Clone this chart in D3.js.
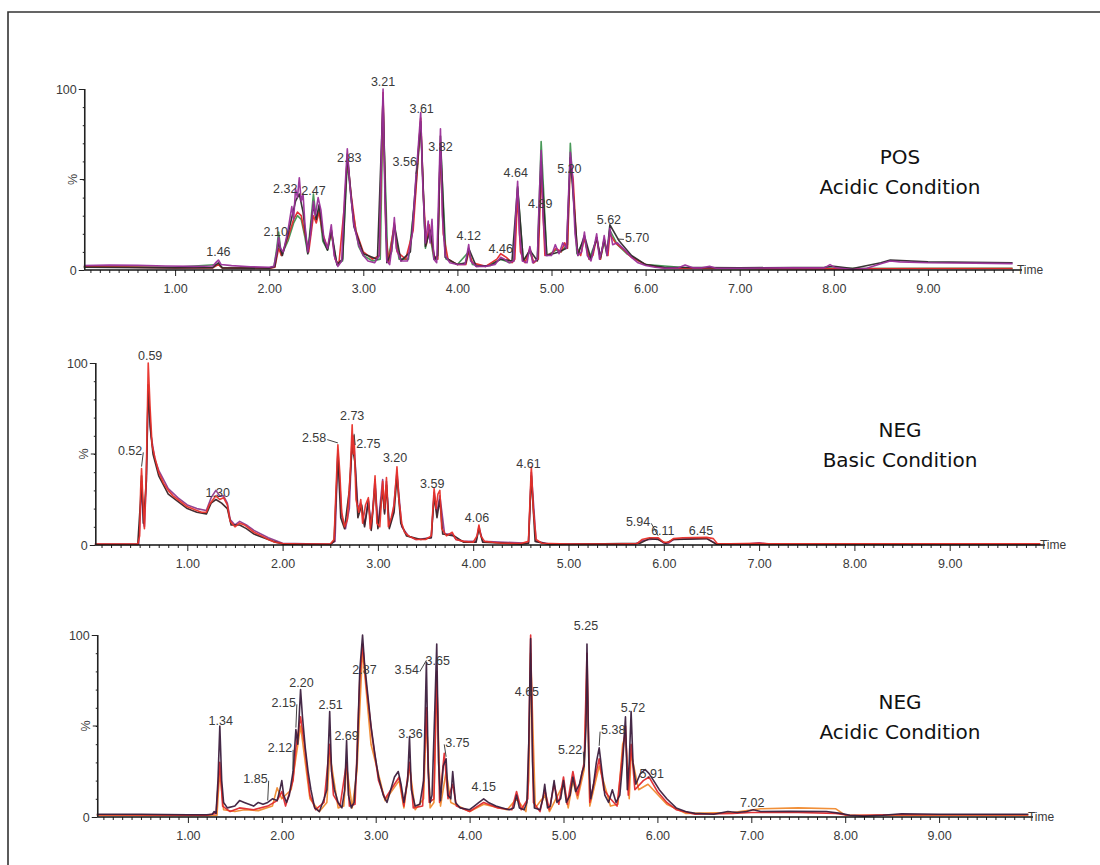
<!DOCTYPE html>
<html><head><meta charset="utf-8">
<script src="https://cdn.jsdelivr.net/npm/d3@7"></script>
<style>body{margin:0;background:#fff}svg{display:block}</style>
</head><body>
<svg id="c" width="1100" height="865"></svg>
<script>
// ---------- data (time in min, intensity in %) ----------
const xTickValues = [1,2,3,4,5,6,7,8,9];
const xTickLabels = ["1.00","2.00","3.00","4.00","5.00","6.00","7.00","8.00","9.00"];
const yTickValues = [0,100];
const yTickLabels = ["0","100"];
const titles = [["POS","Acidic Condition"],["NEG","Basic Condition"],["NEG","Acidic Condition"]];

// Panel 1 : POS acidic
const p1Purple = [[0.03,2.5],[0.3,2.8],[0.6,2.6],[0.9,2.2],[1.2,2],[1.40,2.2],[1.44,4.5],[1.46,5.5],[1.49,3],[1.6,2.4],[1.8,1.8],[2.0,1.5],[2.05,2],[2.08,10],[2.10,18],[2.12,12],[2.15,10],[2.2,22],[2.24,35],[2.26,28],[2.28,45],[2.30,40],[2.32,51],[2.34,38],[2.36,42],[2.38,25],[2.41,10],[2.44,20],[2.47,38],[2.49,30],[2.52,40],[2.55,33],[2.58,18],[2.62,12],[2.66,25],[2.69,8],[2.73,2],[2.77,5],[2.80,40],[2.83,67],[2.86,45],[2.90,25],[2.95,14],[3.0,8],[3.05,5],[3.12,4],[3.17,8],[3.19,60],[3.21,100],[3.23,40],[3.25,5],[3.28,3],[3.31,15],[3.33,29],[3.35,12],[3.40,5],[3.47,5],[3.52,20],[3.56,52],[3.58,65],[3.61,87],[3.63,50],[3.66,15],[3.69,27],[3.71,15],[3.73,28],[3.75,6],[3.78,4],[3.80,40],[3.82,78],[3.84,30],[3.87,8],[3.92,4],[4.0,3],[4.08,3],[4.10,8],[4.12,14],[4.14,5],[4.2,2],[4.3,2],[4.4,3],[4.46,7],[4.5,6],[4.55,4],[4.60,5],[4.62,30],[4.64,49],[4.66,20],[4.69,5],[4.74,4],[4.77,13],[4.80,4],[4.85,6],[4.87,40],[4.89,66],[4.91,30],[4.94,8],[5.0,8],[5.04,14],[5.08,9],[5.12,15],[5.16,12],[5.18,40],[5.20,65],[5.22,55],[5.25,20],[5.28,8],[5.32,10],[5.35,21],[5.38,8],[5.42,5],[5.45,12],[5.48,20],[5.51,6],[5.54,12],[5.56,19],[5.59,8],[5.62,23],[5.65,14],[5.70,15],[5.78,11],[5.85,7],[5.92,4],[6.0,2.5],[6.1,1.5],[6.2,1],[6.35,1.2],[6.42,2.8],[6.5,1.2],[6.6,1.2],[6.68,2],[6.75,1],[7.0,1],[7.5,1.2],[7.9,1.2],[7.96,3],[8.02,1.2],[8.2,0.3],[8.35,1],[8.5,3.5],[8.6,5],[8.7,4.5],[9.0,4],[9.5,3.8],[9.9,3.5]];
const p1Red = [[0.03,1.8],[0.5,1.6],[1.0,1.2],[1.4,1.2],[1.46,3],[1.5,1.2],[2.0,0.8],[2.06,1.5],[2.10,12],[2.13,8],[2.2,18],[2.26,28],[2.30,32],[2.34,30],[2.38,20],[2.42,10],[2.47,30],[2.50,26],[2.53,32],[2.57,20],[2.62,12],[2.66,22],[2.70,6],[2.74,3],[2.80,36],[2.83,62],[2.87,42],[2.92,22],[3.0,10],[3.1,6],[3.17,8],[3.21,98],[3.24,20],[3.27,4],[3.33,26],[3.36,10],[3.45,6],[3.53,22],[3.58,60],[3.61,84],[3.64,40],[3.67,14],[3.70,25],[3.75,8],[3.79,6],[3.82,70],[3.85,20],[3.9,6],[4.0,3],[4.09,3],[4.12,10],[4.16,4],[4.3,2],[4.42,6],[4.46,9],[4.52,7],[4.58,4],[4.61,6],[4.64,42],[4.67,10],[4.72,4],[4.77,12],[4.81,4],[4.86,6],[4.89,55],[4.93,8],[5.0,9],[5.05,12],[5.10,10],[5.14,15],[5.17,12],[5.20,60],[5.23,50],[5.27,12],[5.31,8],[5.35,18],[5.40,6],[5.44,8],[5.48,18],[5.52,6],[5.56,17],[5.60,8],[5.62,20],[5.68,15],[5.75,12],[5.85,7],[6.0,3],[6.2,1],[7.0,0.8],[8.0,0.6],[9.0,0.8],[9.9,0.8]];
const p1Dark = [[0.03,1.5],[1.0,1.2],[1.40,1.3],[1.46,4],[1.5,1.2],[2.0,1],[2.06,2],[2.10,15],[2.14,8],[2.2,20],[2.28,38],[2.32,42],[2.36,32],[2.41,9],[2.47,36],[2.50,28],[2.53,36],[2.58,16],[2.62,11],[2.66,22],[2.72,3],[2.78,6],[2.83,64],[2.90,24],[3.0,9],[3.15,6],[3.21,95],[3.25,4],[3.30,10],[3.33,25],[3.40,5],[3.50,10],[3.56,50],[3.61,82],[3.66,13],[3.71,22],[3.76,6],[3.79,8],[3.82,74],[3.87,7],[4.0,3],[4.09,4],[4.12,12],[4.2,2],[4.35,2.5],[4.46,6],[4.58,5],[4.64,46],[4.70,5],[4.77,11],[4.85,5],[4.89,60],[4.95,8],[5.08,10],[5.16,12],[5.20,62],[5.28,8],[5.35,19],[5.42,6],[5.48,18],[5.52,7],[5.56,17],[5.59,9],[5.62,25],[5.72,16],[5.85,8],[6.0,3],[6.2,1.5],[7.0,1.2],[7.9,1.5],[8.0,2],[8.2,0.8],[8.5,4],[8.6,5.5],[9.0,4.5],[9.9,4]];
const p1Green = [[0.03,1.8],[1.0,1.5],[1.46,3],[1.5,1.3],[2.0,1.2],[2.05,1.5],[2.08,12],[2.10,21],[2.13,8],[2.2,16],[2.26,26],[2.3,30],[2.34,28],[2.38,18],[2.41,9],[2.47,42],[2.50,28],[2.53,34],[2.57,16],[2.62,11],[2.66,20],[2.72,3],[2.78,5],[2.83,60],[2.88,35],[2.95,13],[3.0,8],[3.1,5],[3.18,6],[3.21,90],[3.26,5],[3.33,24],[3.38,6],[3.48,6],[3.55,40],[3.61,80],[3.66,12],[3.70,22],[3.75,6],[3.79,6],[3.82,70],[3.88,6],[4.0,3],[4.12,10],[4.16,3],[4.3,2],[4.46,6],[4.56,4],[4.6,5],[4.64,45],[4.70,5],[4.77,10],[4.81,4],[4.85,6],[4.89,71],[4.95,8],[5.05,11],[5.1,10],[5.17,14],[5.20,70],[5.27,9],[5.35,17],[5.40,6],[5.48,17],[5.52,6],[5.56,16],[5.59,8],[5.62,22],[5.7,14],[5.8,9],[6.0,3],[6.5,1],[7.0,0.8],[9.9,1]];

// Panel 2 : NEG basic
const p2Red = [[0.03,0.5],[0.3,0.5],[0.48,0.5],[0.50,5],[0.51,30],[0.52,42],[0.53,30],[0.55,9],[0.57,40],[0.59,100],[0.61,75],[0.63,55],[0.66,48],[0.70,40],[0.75,34],[0.80,30],[0.85,27],[0.90,25],[0.95,23],[1.0,21],[1.05,20],[1.10,19],[1.15,18],[1.20,18],[1.23,22],[1.27,25],[1.30,27],[1.34,25],[1.38,26],[1.42,22],[1.45,13],[1.50,10],[1.55,12],[1.60,11],[1.65,9],[1.70,7],[1.78,5],[1.85,3],[1.92,1.5],[2.0,0.8],[2.2,0.5],[2.5,0.5],[2.54,3],[2.56,30],[2.58,55],[2.60,40],[2.62,18],[2.65,10],[2.68,14],[2.71,40],[2.73,66],[2.74,50],[2.75,60],[2.77,25],[2.80,18],[2.82,25],[2.84,12],[2.87,22],[2.90,26],[2.92,9],[2.95,20],[2.97,38],[2.99,12],[3.02,10],[3.05,35],[3.07,20],[3.09,37],[3.11,10],[3.14,15],[3.17,22],[3.20,43],[3.22,25],[3.25,12],[3.28,7],[3.32,5],[3.4,3],[3.5,3],[3.56,5],[3.59,31],[3.61,20],[3.63,28],[3.65,30],[3.67,9],[3.72,5],[3.78,7],[3.82,3],[3.9,2],[4.0,1.5],[4.04,5],[4.06,11],[4.08,5],[4.12,2],[4.2,1.5],[4.3,1],[4.5,0.8],[4.58,2],[4.60,30],[4.61,43],[4.63,20],[4.66,3],[4.72,1],[5.0,0.5],[5.5,0.5],[5.72,0.8],[5.77,3],[5.85,4],[5.94,4],[6.0,1.5],[6.05,1.5],[6.10,3.5],[6.2,4],[6.45,4.2],[6.52,3.5],[6.56,0.8],[6.7,0.6],[7.0,1],[7.1,0.6],[8.0,0.6],[9.0,0.6],[9.95,0.6]];
const p2Dark = [[0.03,0.3],[0.48,0.3],[0.51,25],[0.52,38],[0.54,12],[0.57,35],[0.59,88],[0.61,65],[0.64,50],[0.70,38],[0.80,28],[0.90,24],[1.0,20],[1.1,18],[1.2,17],[1.25,23],[1.30,25],[1.36,23],[1.42,20],[1.46,11],[1.55,11],[1.62,9],[1.7,6],[1.8,4],[1.9,2],[2.0,0.5],[2.5,0.3],[2.54,2],[2.56,25],[2.58,50],[2.61,15],[2.65,9],[2.70,30],[2.73,55],[2.76,45],[2.79,15],[2.83,22],[2.86,10],[2.90,24],[2.93,8],[2.97,33],[3.0,9],[3.05,30],[3.07,17],[3.09,33],[3.12,9],[3.17,18],[3.20,38],[3.24,12],[3.3,5],[3.45,3],[3.56,4],[3.59,27],[3.62,15],[3.65,25],[3.68,6],[3.8,5],[3.9,1.5],[4.03,1.5],[4.06,9],[4.1,1.5],[4.5,0.5],[4.58,1],[4.61,38],[4.65,2],[4.8,0.3],[5.75,1],[5.85,3.5],[5.94,3],[6.02,1],[6.1,3],[6.45,3.5],[6.55,0.5],[9.95,0.3]];
const p2Purple = [[0.03,0.4],[0.49,0.4],[0.51,20],[0.52,35],[0.54,12],[0.55,10],[0.57,35],[0.59,85],[0.62,60],[0.66,47],[0.70,41],[0.80,31],[0.9,26],[1.0,22],[1.1,20],[1.2,19],[1.25,26],[1.30,30],[1.34,27],[1.38,27],[1.42,23],[1.45,14],[1.50,11],[1.55,13],[1.62,11],[1.7,8],[1.85,4],[2.0,1],[2.5,0.4],[2.55,2],[2.58,52],[2.62,16],[2.66,9],[2.70,20],[2.73,60],[2.75,55],[2.79,20],[2.82,23],[2.86,11],[2.90,25],[2.93,9],[2.97,36],[3.0,10],[3.05,36],[3.07,18],[3.09,35],[3.12,10],[3.16,18],[3.20,40],[3.25,10],[3.32,5],[3.4,3],[3.56,4],[3.59,29],[3.62,18],[3.65,27],[3.7,6],[3.78,6],[3.82,3],[3.9,2],[4.03,2],[4.06,10],[4.1,2],[4.58,1],[4.61,40],[4.66,2],[4.8,0.5],[5.7,0.6],[5.78,2.5],[5.85,3],[5.94,3.5],[6.0,1],[6.05,1],[6.1,3],[6.45,3.8],[6.55,0.6],[6.9,0.6],[7.0,1.2],[7.1,0.5],[9.95,0.5]];

// Panel 3 : NEG acidic
const p3Dark = [[0.03,1.5],[0.5,1.5],[1.0,1.2],[1.2,1.2],[1.26,1.5],[1.28,3],[1.30,2],[1.32,20],[1.34,50],[1.36,20],[1.38,8],[1.42,5],[1.5,6],[1.55,9],[1.6,8],[1.65,7],[1.7,6],[1.75,8],[1.8,7],[1.85,8],[1.9,10],[1.95,9],[1.98,15],[2.00,20],[2.02,12],[2.05,8],[2.08,12],[2.12,25],[2.15,48],[2.17,40],[2.20,70],[2.22,55],[2.25,38],[2.28,25],[2.31,15],[2.35,5],[2.40,3],[2.45,10],[2.48,15],[2.51,58],[2.53,25],[2.56,15],[2.60,8],[2.64,5],[2.67,15],[2.69,42],[2.71,12],[2.74,5],[2.77,8],[2.80,30],[2.83,80],[2.86,100],[2.88,85],[2.91,70],[2.95,50],[2.99,35],[3.03,22],[3.08,12],[3.12,8],[3.16,15],[3.20,22],[3.24,25],[3.27,18],[3.30,8],[3.34,20],[3.36,44],[3.38,15],[3.42,6],[3.47,7],[3.51,20],[3.54,85],[3.56,25],[3.58,8],[3.60,12],[3.63,60],[3.65,95],[3.67,30],[3.69,9],[3.72,28],[3.75,32],[3.77,12],[3.80,10],[3.82,25],[3.85,8],[3.90,5],[4.0,4],[4.05,6],[4.10,8],[4.15,10],[4.2,8],[4.28,6],[4.35,5],[4.42,4],[4.47,5],[4.50,12],[4.53,5],[4.58,4],[4.61,8],[4.63,40],[4.65,98],[4.67,30],[4.69,5],[4.75,4],[4.78,10],[4.80,18],[4.83,5],[4.86,6],[4.90,20],[4.93,8],[4.97,10],[5.00,20],[5.03,8],[5.07,12],[5.10,22],[5.13,14],[5.17,18],[5.20,25],[5.22,28],[5.24,50],[5.25,95],[5.27,30],[5.29,10],[5.32,18],[5.35,30],[5.38,38],[5.41,25],[5.44,12],[5.48,8],[5.52,15],[5.56,8],[5.60,12],[5.63,30],[5.66,55],[5.68,15],[5.70,30],[5.72,58],[5.74,30],[5.77,18],[5.82,24],[5.87,26],[5.91,24],[5.96,20],[6.02,15],[6.1,10],[6.2,5],[6.3,3],[6.4,2],[6.6,1.5],[6.75,3],[6.85,2.5],[6.95,3],[7.02,4],[7.1,3],[7.4,3.2],[7.8,3],[7.95,2],[8.05,1],[8.2,0.5],[8.4,1],[8.6,1.8],[9.0,1.5],[9.5,1.5],[9.95,1.5]];
const p3Red = [[0.03,1.2],[1.2,1],[1.30,2],[1.34,30],[1.37,6],[1.45,3],[1.55,5],[1.7,4],[1.85,6],[1.95,9],[2.00,14],[2.04,6],[2.12,20],[2.15,38],[2.20,55],[2.24,40],[2.30,12],[2.36,4],[2.45,8],[2.51,40],[2.55,12],[2.62,6],[2.69,30],[2.72,6],[2.78,7],[2.83,75],[2.86,95],[2.90,72],[2.96,45],[3.03,20],[3.1,10],[3.2,18],[3.25,22],[3.3,6],[3.36,30],[3.40,5],[3.5,6],[3.54,60],[3.57,8],[3.62,10],[3.65,80],[3.68,8],[3.73,35],[3.77,10],[3.82,18],[3.86,6],[4.0,3],[4.15,8],[4.3,5],[4.45,4],[4.50,14],[4.55,4],[4.62,10],[4.65,100],[4.68,8],[4.75,3],[4.80,15],[4.85,4],[4.90,18],[4.95,7],[5.00,22],[5.04,7],[5.10,25],[5.15,12],[5.22,30],[5.25,90],[5.28,8],[5.35,25],[5.38,32],[5.43,15],[5.50,10],[5.57,6],[5.63,35],[5.66,50],[5.69,12],[5.72,40],[5.76,15],[5.85,20],[5.91,22],[6.0,14],[6.1,8],[6.2,4],[6.4,1.5],[6.8,2],[7.0,2.5],[7.5,2.5],[7.9,2],[8.05,0.8],[8.5,1.2],[9.95,1.2]];
const p3Orange = [[0.03,1],[1.2,0.8],[1.31,1],[1.32,10],[1.34,25],[1.38,4],[1.5,3],[1.6,4],[1.75,3.5],[1.9,6],[1.95,16],[2.0,10],[2.1,15],[2.2,50],[2.3,10],[2.4,3],[2.48,8],[2.51,35],[2.6,5],[2.66,6],[2.69,28],[2.75,5],[2.80,25],[2.86,92],[2.95,40],[3.1,9],[3.25,20],[3.3,5],[3.36,28],[3.42,4],[3.51,10],[3.54,55],[3.58,5],[3.62,8],[3.65,75],[3.69,6],[3.75,25],[3.8,8],[4.0,3],[4.15,7],[4.4,4],[4.5,10],[4.6,3],[4.63,20],[4.65,90],[4.7,5],[4.8,12],[4.85,3],[5.0,18],[5.05,5],[5.1,20],[5.15,10],[5.22,26],[5.25,80],[5.28,6],[5.38,28],[5.5,6],[5.58,7],[5.63,40],[5.66,45],[5.7,10],[5.72,35],[5.8,15],[5.9,18],[6.1,7],[6.3,2],[6.8,2.5],[7.1,4.5],[7.5,5],[7.9,4.5],[8.0,1],[9.95,1]];

// Peak labels: [peak time, peak %, text, label time, label %, leader]
const p1Labels = [[1.46,6,"1.46",1.46,10,0],[2.10,21,"2.10",2.07,21,0],[2.32,51,"2.32",2.17,45,0],[2.47,42,"2.47",2.47,44,0],[2.83,67,"2.83",2.85,62,0],[3.21,100,"3.21",3.21,104,0],[3.56,52,"3.56",3.44,60,1],[3.61,87,"3.61",3.62,89,0],[3.82,78,"3.82",3.82,68,0],[4.12,14,"4.12",4.12,19,0],[4.46,9,"4.46",4.46,12,0],[4.64,49,"4.64",4.62,54,0],[4.89,66,"4.89",4.88,37,0],[5.20,65,"5.20",5.19,56,0],[5.62,23,"5.62",5.61,28,0],[5.70,16,"5.70",5.91,18,1]];
const p2Labels = [[0.59,100,"0.59",0.61,104,0],[0.52,42,"0.52",0.40,52,1],[1.30,27,"1.30",1.32,29,0],[2.58,55,"2.58",2.33,59,1],[2.73,66,"2.73",2.73,71,0],[2.75,60,"2.75",2.90,56,1],[3.20,43,"3.20",3.18,48,0],[3.59,31,"3.59",3.57,34,0],[4.06,11,"4.06",4.04,15,0],[4.61,43,"4.61",4.58,45,0],[5.94,4,"5.94",5.73,13,1],[6.11,4,"6.11",5.99,8,0],[6.45,4,"6.45",6.39,8,0]];
const p3Labels = [[1.34,50,"1.34",1.35,53,0],[1.85,8,"1.85",1.72,21,1],[2.12,25,"2.12",1.98,38,1],[2.15,48,"2.15",2.02,63,1],[2.20,70,"2.20",2.21,74,0],[2.51,58,"2.51",2.52,62,0],[2.69,42,"2.69",2.69,45,0],[2.87,100,"2.87",2.88,81,0],[3.54,85,"3.54",3.33,81,1],[3.65,95,"3.65",3.66,86,0],[3.36,44,"3.36",3.37,46,0],[3.75,32,"3.75",3.87,41,1],[4.15,10,"4.15",4.15,17,0],[4.65,98,"4.65",4.61,69,0],[5.25,95,"5.25",5.24,105,0],[5.72,58,"5.72",5.74,60,0],[5.38,38,"5.38",5.53,48,1],[5.22,28,"5.22",5.07,37,1],[5.91,26,"5.91",5.94,24,0],[7.02,4,"7.02",7.01,8,0]];

// ---------- layout / style ----------
const panels = [
  {x0:81, x1:1022, yTop:89,  yBot:270, ty:164,
   series:[[p1Green,"#3f9450"],[p1Red,"#e2262b"],[p1Dark,"#2f2a2c"],[p1Purple,"#9a2f98"]], labels:p1Labels},
  {x0:92, x1:1045, yTop:363, yBot:545, ty:437,
   series:[[p2Purple,"#8e3a8c"],[p2Dark,"#3a2226"],[p2Red,"#e8322a"]], labels:p2Labels},
  {x0:94, x1:1033, yTop:635, yBot:817, ty:709,
   series:[[p3Orange,"#f08a2e"],[p3Red,"#e02a2e"],[p3Dark,"#3c1f3e"]], labels:p3Labels}
];

const svg = d3.select("#c");
const FONT = "'Liberation Sans', Arial, sans-serif";
// frame
svg.append("path").attr("d","M8,865 V12 H1100").attr("fill","none").attr("stroke","#333").attr("stroke-width",1.6);

panels.forEach((p,i)=>{
  const x = d3.scaleLinear().domain([0,10]).range([p.x0,p.x1]);
  const y = d3.scaleLinear().domain([0,100]).range([p.yBot,p.yTop]);
  const ax = x(0.04);
  const g = svg.append("g");

  // traces
  const line = d3.line().x(d=>x(d[0])).y(d=>y(d[1]));
  p.series.forEach(([data,col])=>{
    g.append("path").datum(data).attr("d",line).attr("fill","none")
      .attr("stroke",col).attr("stroke-width",1.6).attr("stroke-linejoin","round").attr("opacity",0.95);
  });

  // x axis minor ticks
  const minor = d3.range(1,100).map(k=>k/10).filter(v=>Math.abs(v-Math.round(v))>1e-6);
  const xa = g.append("g").attr("transform",`translate(0,${p.yBot})`);
  xa.call(d3.axisBottom(x).tickValues(minor).tickSize(3).tickFormat(""))
    .call(s=>s.select(".domain").remove());
  xa.append("g").call(d3.axisBottom(x).tickValues(xTickValues).tickSize(6).tickPadding(8)
      .tickFormat((d,k)=>xTickLabels[k]))
    .call(s=>s.select(".domain").remove());
  xa.selectAll("line").attr("stroke","#222");
  xa.selectAll("text").attr("font-family",FONT).attr("font-size",12.5).attr("fill","#3a3a3a");
  xa.append("line").attr("x1",ax).attr("x2",p.x1).attr("y1",0).attr("y2",0).attr("stroke","#111").attr("stroke-width",1.6);
  xa.append("text").attr("x",p.x1+8).attr("y",4).text("Time")
    .attr("font-family",FONT).attr("font-size",12).attr("fill","#3a3a3a");

  // y axis
  const ya = g.append("g").attr("transform",`translate(${ax},0)`);
  ya.call(d3.axisLeft(y).tickValues(d3.range(10,100,10)).tickSize(2).tickFormat(""))
    .call(s=>s.select(".domain").remove());
  ya.append("g").call(d3.axisLeft(y).tickValues(yTickValues).tickSize(6).tickPadding(2)
      .tickFormat((d,k)=>yTickLabels[k]))
    .call(s=>s.select(".domain").remove());
  ya.append("line").attr("x1",-5).attr("x2",0).attr("y1",y(50)).attr("y2",y(50)).attr("stroke","#222");
  ya.append("text").attr("transform",`translate(-8,${y(50)}) rotate(-90)`).attr("text-anchor","middle")
    .attr("font-family",FONT).attr("font-size",9).attr("fill","#555").text("%");
  ya.append("line").attr("x1",0).attr("x2",0).attr("y1",y(0)).attr("y2",y(100)).attr("stroke","#111").attr("stroke-width",1.6);
  ya.selectAll("line").attr("stroke","#222");
  ya.selectAll("text").attr("font-family",FONT).attr("font-size",12.5).attr("fill","#3a3a3a");

  // peak labels
  p.labels.forEach(([pt,pv,txt,lt,lv,lead])=>{
    const tx = x(lt), tyy = y(lv);
    const t = g.append("text").attr("x",tx).attr("y",tyy+4.5).attr("text-anchor","middle")
      .attr("font-family",FONT).attr("font-size",12.5).attr("fill","#3a3a3a").text(txt);
    if(lead){
      const w = t.node().getComputedTextLength();
      const sx = x(pt) > tx ? tx + w/2 + 1 : tx - w/2 - 1;
      g.append("path").attr("d",`M${sx},${tyy+2} L${x(pt)},${y(pv)-2}`)
        .attr("fill","none").attr("stroke","#444").attr("stroke-width",1);
    }
  });

  // title
  svg.append("text").attr("x",900).attr("y",p.ty).attr("text-anchor","middle")
    .attr("font-family","'DejaVu Sans', Verdana, sans-serif").attr("font-size",20).attr("fill","#111").text(titles[i][0]);
  svg.append("text").attr("x",900).attr("y",p.ty+30).attr("text-anchor","middle")
    .attr("font-family","'DejaVu Sans', Verdana, sans-serif").attr("font-size",20).attr("fill","#111").text(titles[i][1]);
});
</script>
</body></html>
